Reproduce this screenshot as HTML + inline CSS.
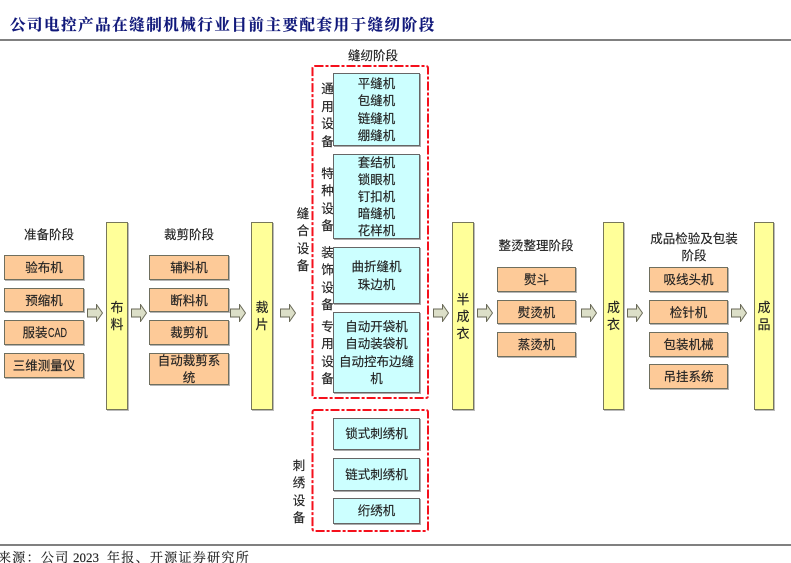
<!DOCTYPE html>
<html><head><meta charset="utf-8">
<style>
html,body{margin:0;padding:0;background:#fff;}
#p{position:relative;width:791px;height:563px;overflow:hidden;background:#fff;font-family:"Liberation Sans","Noto Sans CJK SC",sans-serif;color:#222;font-size:12.5px;line-height:17px;-webkit-text-stroke:.15px #222;}
#p div{position:absolute;box-sizing:border-box;}
.o{background:#fdca98;border:1px solid #6f6f5f;box-shadow:1px 1px 0 #b5b5b5;display:flex;align-items:center;justify-content:center;text-align:center;padding-top:2px;}
.c{background:#ccffff;border:1px solid #666;box-shadow:1px 1px 0 #aaa;text-align:center;display:flex;align-items:center;justify-content:center;line-height:17.3px;padding-top:2px;}
.y{background:#ffff99;border:1px solid #77775a;box-shadow:1px 1px 0 #bbb;display:flex;align-items:center;justify-content:center;text-align:center;top:222px;height:188px;line-height:17px;font-size:13px;}
.t{text-align:center;transform:translateY(1px);}
.v{line-height:17.5px;width:14px;text-align:center;transform:translateY(1px);}
.a{width:16px;height:18px;top:304px;}
svg{display:block;}
.f{top:549px;height:18px;font:13px/18px 'Liberation Serif','Noto Serif CJK SC',serif;white-space:nowrap;color:#222;letter-spacing:1.3px;}
</style></head><body><div id="p">
<div style="left:10px;top:15px;width:440px;height:22px;font:bold 15.5px/22px 'Liberation Serif','Noto Serif CJK SC',serif;letter-spacing:1.53px;color:#10187a;-webkit-text-stroke:.2px #10187a;white-space:nowrap;">公司电控产品在缝制机械行业目前主要配套用于缝纫阶段</div>
<div style="left:0;top:39px;width:791px;height:1.5px;background:#808080;"></div>

<div class="t" style="left:4px;top:226px;width:90px;">准备阶段</div>
<div class="o" style="left:4px;top:255px;width:80px;height:25px;">验布机</div>
<div class="o" style="left:4px;top:288px;width:80px;height:24px;">预缩机</div>
<div class="o" style="left:4px;top:320px;width:80px;height:25px;">服装<span style="display:inline-block;width:18px;transform:scaleX(.72);transform-origin:left;">CAD</span></div>
<div class="o" style="left:4px;top:353px;width:80px;height:25px;">三维测量仪</div>
<div class="y" style="left:106px;width:22px;">布<br>料</div>

<div class="t" style="left:144px;top:226px;width:90px;">裁剪阶段</div>
<div class="o" style="left:149px;top:255px;width:80px;height:25px;">辅料机</div>
<div class="o" style="left:149px;top:288px;width:80px;height:24px;">断料机</div>
<div class="o" style="left:149px;top:320px;width:80px;height:25px;">裁剪机</div>
<div class="o" style="left:149px;top:353px;width:80px;height:32px;">自动裁剪系<br>统</div>
<div class="y" style="left:251px;width:22px;">裁<br>片</div>

<div class="v" style="left:296px;top:204.500px;">缝<br>合<br>设<br>备</div>

<div class="t" style="left:330px;top:47px;width:86px;">缝纫阶段</div>
<svg style="position:absolute;left:0;top:0;" width="791" height="563"><rect x="312.500" y="66" width="115.500" height="332" rx="2" fill="none" stroke="#f5101c" stroke-width="2" stroke-dasharray="9 2 3 2"/><rect x="312.500" y="410" width="115.500" height="121" rx="2" fill="none" stroke="#f5101c" stroke-width="2" stroke-dasharray="9 2 3 2"/></svg>
<div class="v" style="left:320.500px;top:80px;">通<br>用<br>设<br>备</div>
<div class="c" style="left:333px;top:73px;width:87px;height:73px;">平缝机<br>包缝机<br>链缝机<br>绷缝机</div>
<div class="v" style="left:320.500px;top:164.500px;">特<br>种<br>设<br>备</div>
<div class="c" style="left:333px;top:154px;width:87px;height:85px;line-height:17px;">套结机<br>锁眼机<br>钉扣机<br>暗缝机<br>花样机</div>
<div class="v" style="left:320.500px;top:243.500px;">装<br>饰<br>设<br>备</div>
<div class="c" style="left:333px;top:247px;width:87px;height:57px;">曲折缝机<br>珠边机</div>
<div class="v" style="left:320.500px;top:317.500px;">专<br>用<br>设<br>备</div>
<div class="c" style="left:333px;top:312px;width:87px;height:81px;">自动开袋机<br>自动装袋机<br>自动控布边缝<br>机</div>

<div class="v" style="left:292px;top:456.500px;">刺<br>绣<br>设<br>备</div>
<div class="c" style="left:333px;top:418px;width:87px;height:32px;">锁式刺绣机</div>
<div class="c" style="left:333px;top:458px;width:87px;height:33px;">链式刺绣机</div>
<div class="c" style="left:333px;top:498px;width:87px;height:26px;">绗绣机</div>

<div class="y" style="left:452px;width:22px;">半<br>成<br>衣</div>

<div class="t" style="left:486px;top:237px;width:100px;">整烫整理阶段</div>
<div class="o" style="left:497px;top:267px;width:79px;height:25px;">熨斗</div>
<div class="o" style="left:497px;top:300px;width:79px;height:24px;">熨烫机</div>
<div class="o" style="left:497px;top:332px;width:79px;height:25px;">蒸烫机</div>
<div class="y" style="left:603px;width:21px;">成<br>衣</div>

<div class="t" style="left:644px;top:230px;width:100px;">成品检验及包装<br>阶段</div>
<div class="o" style="left:649px;top:267px;width:79px;height:25px;">吸线头机</div>
<div class="o" style="left:649px;top:300px;width:79px;height:24px;">检针机</div>
<div class="o" style="left:649px;top:332px;width:79px;height:25px;">包装机械</div>
<div class="o" style="left:649px;top:364px;width:79px;height:25px;">吊挂系统</div>
<div class="y" style="left:754px;width:20px;">成<br>品</div>

<div class="a" style="left:87px;"><svg width="16" height="18"><path d="M.5 5H9.500V.5L15.500 9 9.500 17.500V13H.5Z" fill="#dcdfc8" stroke="#6a6a58"/></svg></div>
<div class="a" style="left:131px;"><svg width="16" height="18"><path d="M.5 5H9.500V.5L15.500 9 9.500 17.500V13H.5Z" fill="#dcdfc8" stroke="#6a6a58"/></svg></div>
<div class="a" style="left:230px;"><svg width="16" height="18"><path d="M.5 5H9.500V.5L15.500 9 9.500 17.500V13H.5Z" fill="#dcdfc8" stroke="#6a6a58"/></svg></div>
<div class="a" style="left:280px;"><svg width="16" height="18"><path d="M.5 5H9.500V.5L15.500 9 9.500 17.500V13H.5Z" fill="#dcdfc8" stroke="#6a6a58"/></svg></div>
<div class="a" style="left:433px;"><svg width="16" height="18"><path d="M.5 5H9.500V.5L15.500 9 9.500 17.500V13H.5Z" fill="#dcdfc8" stroke="#6a6a58"/></svg></div>
<div class="a" style="left:477px;"><svg width="16" height="18"><path d="M.5 5H9.500V.5L15.500 9 9.500 17.500V13H.5Z" fill="#dcdfc8" stroke="#6a6a58"/></svg></div>
<div class="a" style="left:581px;"><svg width="16" height="18"><path d="M.5 5H9.500V.5L15.500 9 9.500 17.500V13H.5Z" fill="#dcdfc8" stroke="#6a6a58"/></svg></div>
<div class="a" style="left:627px;"><svg width="16" height="18"><path d="M.5 5H9.500V.5L15.500 9 9.500 17.500V13H.5Z" fill="#dcdfc8" stroke="#6a6a58"/></svg></div>
<div class="a" style="left:731px;"><svg width="16" height="18"><path d="M.5 5H9.500V.5L15.500 9 9.500 17.500V13H.5Z" fill="#dcdfc8" stroke="#6a6a58"/></svg></div>

<div style="left:0;top:544px;width:791px;height:1.5px;background:#808080;"></div>
<div class="f" style="left:-2px;">来源：公司</div>
<div class="f" style="left:73px;letter-spacing:0;">2023</div>
<div class="f" style="left:107px;">年报、开源证券研究所</div>
</div></body></html>
